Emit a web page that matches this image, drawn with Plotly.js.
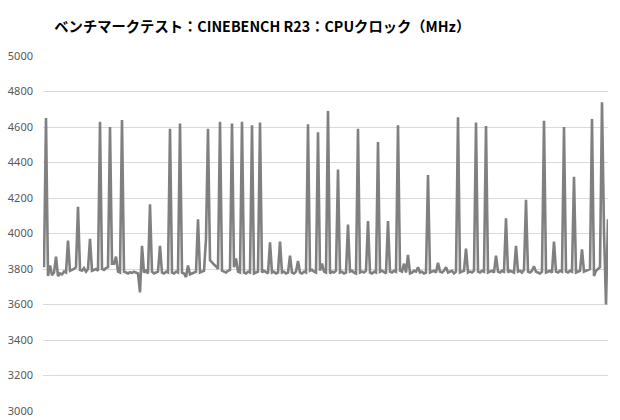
<!DOCTYPE html>
<html>
<head>
<meta charset="utf-8">
<script src="https://cdn.plot.ly/plotly-3.0.1.min.js"></script>
<style>html,body{margin:0;padding:0;background:#fff;}#chart{width:620px;height:420px;}</style>
</head>
<body>
<div id="chart"></div>
<script>
// CPU clock samples (MHz), one per sample index
const clockMHz = [
3810,4650,3760,3820,3765,3780,3870,3760,3775,3770,
3785,3780,3960,3790,3795,3800,3810,4150,3795,3790,
3805,3785,3800,3970,3790,3795,3800,3790,4630,3800,
3795,3805,3810,4600,3830,3830,3870,3785,3780,4640,
3785,3780,3775,3782,3778,3785,3780,3775,3668,3930,
3780,3790,3775,4165,3785,3775,3780,3785,3930,3780,
3775,3785,3780,4590,3780,3775,3785,3780,4620,3780,
3775,3755,3820,3770,3775,3780,3785,4080,3780,3785,
3790,3970,4590,3850,3835,3825,3815,3800,4630,3790,
3785,3780,3790,3795,4620,3810,3860,3785,3780,4630,
3780,3775,3785,3780,4610,3775,3780,3785,4625,3780,
3790,3780,3775,3950,3780,3785,3775,3780,3955,3780,
3785,3775,3780,3875,3780,3775,3785,3845,3780,3775,
3785,3780,4615,3790,3795,3785,3780,4570,3790,3830,
3785,3780,4690,3775,3785,3780,3790,4360,3780,3785,
3775,3780,4050,3785,3790,3780,3775,4590,3780,3785,
3780,3790,4070,3780,3775,3785,3780,4515,3785,3790,
3780,3775,4070,3785,3780,3790,3785,4610,3790,3785,
3830,3780,3880,3775,3780,3790,3785,3810,3780,3785,
3775,3780,4330,3780,3785,3790,3780,3835,3785,3780,
3790,3810,3780,3785,3790,3775,3785,4655,3780,3785,
3790,3915,3780,3785,3780,3790,4625,3785,3780,3790,
3785,4605,3780,3785,3790,3780,3875,3785,3780,3790,
3785,4085,3780,3790,3785,3780,3930,3785,3790,3780,
3795,4190,3785,3780,3790,3815,3785,3780,3775,3785,
4635,3780,3785,3790,3780,3955,3785,3780,3790,3785,
4600,3785,3780,3790,3785,4320,3780,3785,3790,3910,
3785,3790,3795,3800,4645,3760,3790,3800,3810,4740,
4010,3600,4080
];
const sampleIndex = clockMHz.map((_, i) => i);
const yTicks = [3000,3200,3400,3600,3800,4000,4200,4400,4600,4800,5000];
const titleText = 'ベンチマークテスト：CINEBENCH R23：CPUクロック（MHz）';

Plotly.newPlot('chart', [{
  type: 'scatter',
  mode: 'lines',
  x: sampleIndex,
  y: clockMHz,
  line: {color: '#808080', width: 2.6},
  hoverinfo: 'skip'
}], {
  width: 620, height: 420,
  margin: {l: 43, r: 12, t: 56, b: 9},
  paper_bgcolor: '#ffffff',
  plot_bgcolor: '#ffffff',
  showlegend: false,
  title: {
    text: titleText,
    x: 0.423, xref: 'container', xanchor: 'center',
    y: 0.935, yref: 'container', yanchor: 'middle',
    font: {family: '"Noto Sans CJK JP", "Noto Sans", sans-serif', size: 14.3, color: '#000000', weight: 'bold'}
  },
  xaxis: {
    range: [-0.5, clockMHz.length - 1],
    showgrid: false, zeroline: false, showline: false,
    showticklabels: false, ticks: ''
  },
  yaxis: {
    range: [3000, 5000],
    tickmode: 'array', tickvals: yTicks, ticktext: yTicks.map(String),
    showgrid: true, gridcolor: '#d9d9d9', gridwidth: 1,
    zeroline: false, showline: false, ticks: '',
    ticklabelstandoff: 9,
    tickfont: {family: '"Noto Sans", "Open Sans", sans-serif', size: 11, color: '#595959'}
  }
}, {displayModeBar: false, staticPlot: true});
</script>
</body>
</html>
